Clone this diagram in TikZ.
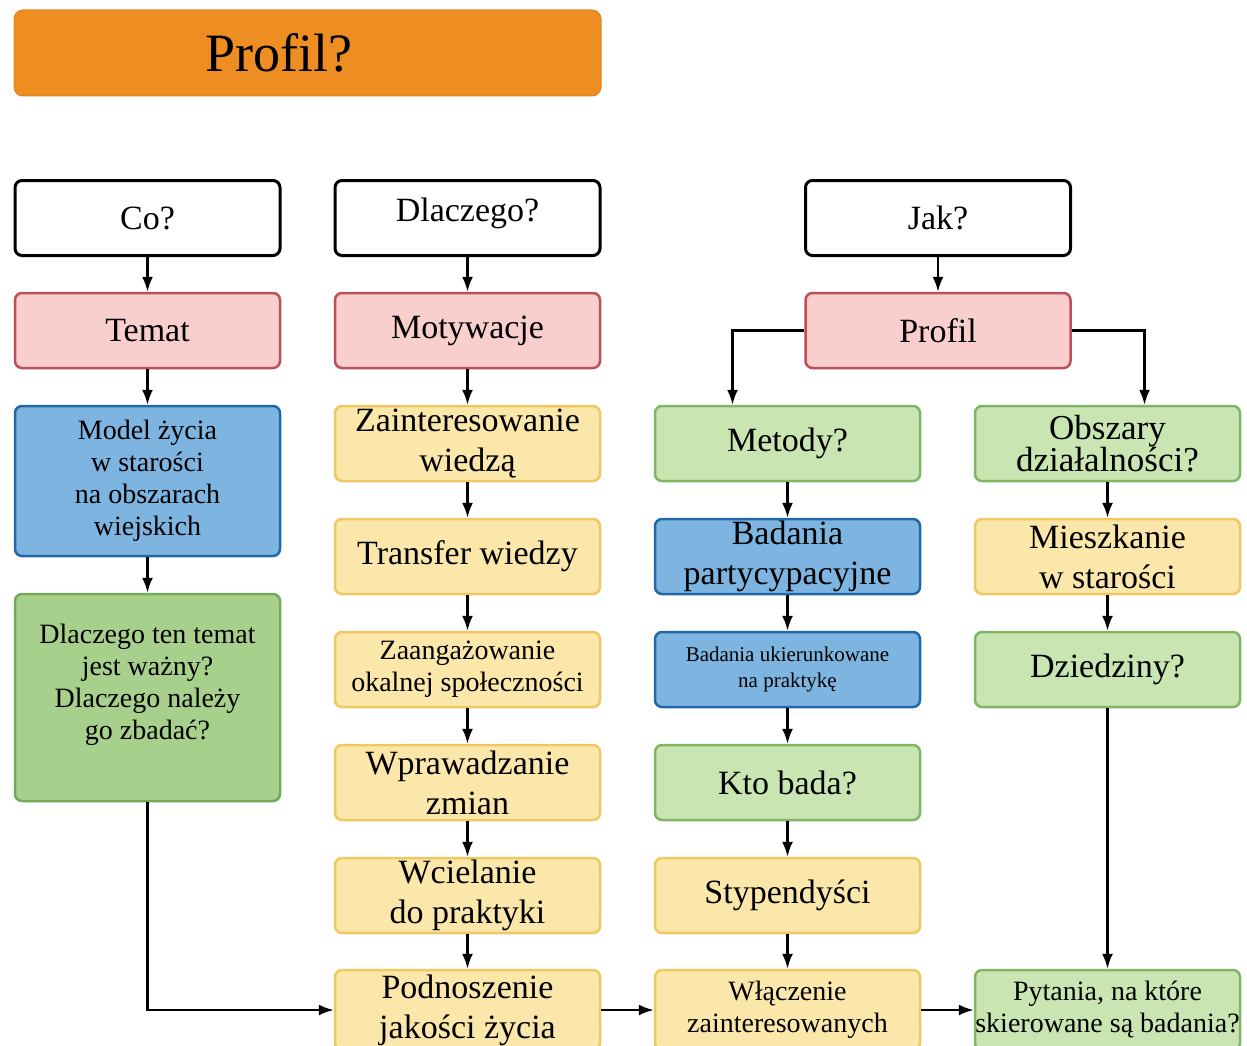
\documentclass[tikz,border=0pt]{standalone}
\usepackage{fontspec}
\setmainfont{Liberation Serif}
\usetikzlibrary{arrows.meta}

\definecolor{orangefill}{HTML}{EE8D22}
\definecolor{orangeline}{HTML}{E08420}
\definecolor{pinkfill}{HTML}{F8CFCD}
\definecolor{pinkline}{HTML}{BC4F58}
\definecolor{bluefill}{HTML}{7EB5E0}
\definecolor{blueline}{HTML}{2268A8}
\definecolor{yellowfill}{HTML}{FCE7AA}
\definecolor{yellowline}{HTML}{EFC861}
\definecolor{greenfill}{HTML}{C9E5B1}
\definecolor{greenline}{HTML}{80B566}
\definecolor{darkgreenfill}{HTML}{A8D08D}
\definecolor{darkgreenline}{HTML}{74A95A}

\tikzset{
  box/.style={rectangle, rounded corners=7pt, minimum width=265pt,
    minimum height=75pt, inner sep=0pt, align=center, line width=2.5pt,
    font=\fontsize{34}{40}\selectfont},
  hdrbox/.style={box, draw=black, fill=white, line width=3pt},
  pinkbox/.style={box, draw=pinkline, fill=pinkfill},
  bluebox/.style={box, draw=blueline, fill=bluefill},
  yellowbox/.style={box, draw=yellowline, fill=yellowfill},
  greenbox/.style={box, draw=greenline, fill=greenfill},
  darkgreenbox/.style={box, draw=darkgreenline, fill=darkgreenfill},
  smalltext/.style={font=\fontsize{28}{32}\selectfont},
  tinytext/.style={font=\fontsize{21}{26}\selectfont},
  arr/.style={-{Latex[length=15pt,width=11pt]}, line width=2.2pt}
}

\begin{document}
\begin{tikzpicture}[x=1pt,y=-1pt]
  \clip (0,0) rectangle (1247,1046);
  \fill[white] (0,0) rectangle (1247,1046);

  % title bar
  \node[rectangle, rounded corners=9pt, fill=orangefill, draw=orangeline,
        line width=1pt, minimum width=587pt, minimum height=86pt, inner sep=0pt,
        font=\fontsize{54}{60}\selectfont]
    (title) at (307.5,53) {\hspace*{-58pt}Profil?};

  % column 1: Co?
  \node[hdrbox] (co) at (147.5,218) {Co?};
  \node[pinkbox] (temat) at (147.5,330.5) {Temat};
  \node[bluebox, smalltext, minimum height=150pt] (model) at (147.5,481)
    {Model życia\\w starości\\na obszarach\\wiejskich};
  \node[darkgreenbox, smalltext, minimum height=207pt] (waznosc) at (147.5,697.5)
    {\raisebox{12pt}[\height][\depth]{\begin{tabular}{@{}c@{}}Dlaczego ten temat\\
      jest ważny?\\Dlaczego należy\\go zbadać?\end{tabular}}};

  % column 2: Dlaczego?
  \node[hdrbox] (dlaczego) at (467.5,218)
    {\raisebox{5pt}[\height][\depth]{Dlaczego?}};
  \node[pinkbox] (motyw) at (467.5,330.5) {Motywacje};
  \node[yellowbox] (zaint) at (467.5,443.5) {Zainteresowanie\\wiedzą};
  \node[yellowbox] (transfer) at (467.5,556.5) {Transfer wiedzy};
  \node[yellowbox, smalltext] (zaang) at (467.5,669.5)
    {Zaangażowanie\\okalnej społeczności};
  \node[yellowbox] (wprow) at (467.5,782.5) {Wprawadzanie\\zmian};
  \node[yellowbox] (wciel) at (467.5,895.5) {Wcielanie\\do praktyki};
  \node[yellowbox, minimum height=80pt] (podn) at (467.5,1010)
    {Podnoszenie\\jakości życia};

  % column 3: Jak?
  \node[hdrbox] (jak) at (938,218) {Jak?};
  \node[pinkbox] (profil) at (938,330.5) {Profil};
  \node[greenbox] (metody) at (787.5,443.5) {Metody?};
  \node[bluebox] (partyc) at (787.5,556.5) {Badania\\partycypacyjne};
  \node[bluebox, tinytext] (ukier) at (787.5,669.5)
    {Badania ukierunkowane\\na praktykę};
  \node[greenbox] (kto) at (787.5,782.5) {Kto bada?};
  \node[yellowbox] (styp) at (787.5,895.5) {Stypendyści};
  \node[yellowbox, smalltext, minimum height=80pt] (wlacz) at (787.5,1010)
    {Włączenie\\zainteresowanych};

  % column 4
  \node[greenbox, font=\fontsize{35}{32}\selectfont] (obszary) at (1107.5,443.5)
    {Obszary\\działalności?};
  \node[yellowbox] (mieszk) at (1107.5,556.5) {Mieszkanie\\w starości};
  \node[greenbox] (dziedz) at (1107.5,669.5) {Dziedziny?};
  \node[greenbox, smalltext, minimum height=80pt] (pytania) at (1107.5,1010)
    {Pytania, na które\\skierowane są badania?};

  % connectors, column 1
  \draw[arr] (co.south) -- (temat.north);
  \draw[arr] (temat.south) -- (model.north);
  \draw[arr] (model.south) -- (waznosc.north);
  \draw[arr] (waznosc.south) |- (podn.west);

  % connectors, column 2
  \draw[arr] (dlaczego.south) -- (motyw.north);
  \draw[arr] (motyw.south) -- (zaint.north);
  \draw[arr] (zaint.south) -- (transfer.north);
  \draw[arr] (transfer.south) -- (zaang.north);
  \draw[arr] (zaang.south) -- (wprow.north);
  \draw[arr] (wprow.south) -- (wciel.north);
  \draw[arr] (wciel.south) -- (podn.north);

  % connectors, column 3
  \draw[arr] (jak.south) -- (profil.north);
  \draw[arr] (profil.west) -| ([xshift=-55pt]metody.north);
  \draw[arr] (profil.east) -| ([xshift=37pt]obszary.north);
  \draw[arr] (metody.south) -- (partyc.north);
  \draw[arr] (partyc.south) -- (ukier.north);
  \draw[arr] (ukier.south) -- (kto.north);
  \draw[arr] (kto.south) -- (styp.north);
  \draw[arr] (styp.south) -- (wlacz.north);

  % connectors, column 4 and bottom row
  \draw[arr] (obszary.south) -- (mieszk.north);
  \draw[arr] (mieszk.south) -- (dziedz.north);
  \draw[arr] (dziedz.south) -- (pytania.north);
  \draw[arr] (podn.east) -- (wlacz.west);
  \draw[arr] (wlacz.east) -- (pytania.west);
\end{tikzpicture}
\end{document}
